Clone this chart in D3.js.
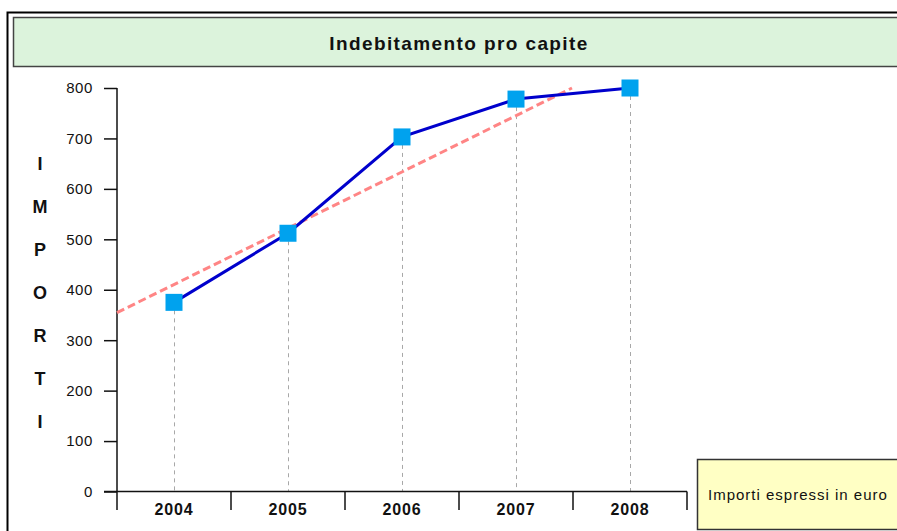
<!DOCTYPE html>
<html>
<head>
<meta charset="utf-8">
<script src="https://cdn.jsdelivr.net/npm/d3@7"></script>
<style>
  body { margin: 0; background: #fff; }
  svg { display: block; font-family: "Liberation Sans", Arial, sans-serif; }
</style>
</head>
<body>
<div id="chart-area"></div>
<script>
// data
const years = ["2004", "2005", "2006", "2007", "2008"];
const importi = [375, 512, 703, 778, 800];
const yTicks = [0, 100, 200, 300, 400, 500, 600, 700, 800];
const axisLetters = ["I", "M", "P", "O", "R", "T", "I"];

const W = 897, H = 531;
const plot = {left: 117, right: 687, top: 88, bottom: 491.5};

const svg = d3.select("#chart-area")
  .append("svg")
    .attr("width", W)
    .attr("height", H);

// outer frame + title box
svg.append("rect")
  .attr("x", 7.5).attr("y", 12.5)
  .attr("width", W + 20).attr("height", H + 20)
  .attr("fill", "none").attr("stroke", "#000").attr("stroke-width", 2);

svg.append("rect")
  .attr("x", 13.5).attr("y", 17.5)
  .attr("width", 892).attr("height", 49)
  .attr("fill", "#dcf3dc").attr("stroke", "#444").attr("stroke-width", 1.5);

svg.append("text")
  .attr("x", 459).attr("y", 50)
  .attr("text-anchor", "middle")
  .style("font-size", "19px").style("font-weight", "bold")
  .style("letter-spacing", "1.4px")
  .attr("fill", "#111")
  .text("Indebitamento pro capite");

// scales
const x = d3.scaleBand()
  .domain(years)
  .range([plot.left, plot.right]);

const y = d3.scaleLinear()
  .domain([0, 800])
  .range([plot.bottom, plot.top]);

const cx = d => x(d) + x.bandwidth() / 2;

// vertical dashed guides
svg.append("g")
  .selectAll("line")
  .data(years)
  .join("line")
    .attr("x1", d => Math.round(cx(d)) + 0.5)
    .attr("x2", d => Math.round(cx(d)) + 0.5)
    .attr("y1", (d, i) => y(importi[i]))
    .attr("y2", plot.bottom)
    .attr("stroke", "#a8a8a8")
    .attr("stroke-dasharray", "4,4");

// Y axis
const yAxis = svg.append("g")
  .attr("transform", `translate(${plot.left},0)`)
  .call(d3.axisLeft(y).tickValues(yTicks).tickSize(13).tickSizeOuter(0).tickPadding(11))
yAxis.select(".domain").remove();
yAxis.selectAll("line").attr("stroke", "#111").attr("stroke-width", 1.5);
yAxis.selectAll("text")
  .attr("fill", "#111")
  .style("font-size", "15px")
  .style("letter-spacing", "0.6px")
  .style("font-family", "Liberation Sans, Arial, sans-serif");

svg.append("line")
  .attr("x1", plot.left).attr("x2", plot.left)
  .attr("y1", plot.top).attr("y2", 510)
  .attr("stroke", "#111").attr("stroke-width", 1.5);

// X axis
svg.append("line")
  .attr("x1", plot.left - 13).attr("x2", plot.right)
  .attr("y1", plot.bottom).attr("y2", plot.bottom)
  .attr("stroke", "#111").attr("stroke-width", 1.5);

svg.append("g")
  .selectAll("line")
  .data(years.slice(1).concat(["end"]))
  .join("line")
    .attr("x1", d => d === "end" ? plot.right : x(d))
    .attr("x2", d => d === "end" ? plot.right : x(d))
    .attr("y1", plot.bottom)
    .attr("y2", 510)
    .attr("stroke", "#111").attr("stroke-width", 1.5);

const xAxis = svg.append("g")
  .attr("transform", `translate(0,${plot.bottom})`)
  .call(d3.axisBottom(x).tickSize(0).tickPadding(12))
xAxis.select(".domain").remove();
xAxis.selectAll("text")
  .attr("fill", "#111")
  .style("font-size", "16px")
  .style("font-weight", "bold")
  .style("letter-spacing", "0.8px")
  .style("font-family", "Liberation Sans, Arial, sans-serif");

// vertical axis title
svg.append("g")
  .selectAll("text")
  .data(axisLetters)
  .join("text")
    .attr("x", 40)
    .attr("y", (d, i) => 170 + i * 43)
    .attr("text-anchor", "middle")
    .style("font-size", "18px").style("font-weight", "bold")
    .attr("fill", "#111")
    .text(d => d);

// linear trend (least squares over the series)
const idx = importi.map((v, i) => i);
const mx = d3.mean(idx), my = d3.mean(importi);
const slope = d3.sum(idx, i => (i - mx) * (importi[i] - my)) / d3.sum(idx, i => (i - mx) ** 2);
const icpt = my - slope * mx;
const step = x.step();
const idxToPx = i => cx(years[0]) + i * step;
const i0 = -0.5;
const i1 = Math.min(years.length - 0.5, (800 - icpt) / slope);

svg.append("line")
  .attr("x1", idxToPx(i0)).attr("y1", y(icpt + slope * i0))
  .attr("x2", idxToPx(i1)).attr("y2", y(icpt + slope * i1))
  .attr("stroke", "#ff8585")
  .attr("stroke-width", 3)
  .attr("stroke-dasharray", "8,4");

// series line
const line = d3.line()
  .x((d, i) => cx(years[i]))
  .y(d => y(d));

svg.append("path")
  .datum(importi)
  .attr("d", line)
  .attr("fill", "none")
  .attr("stroke", "#0000cc")
  .attr("stroke-width", 3);

// markers
const ms = 17;
svg.append("g")
  .selectAll("rect")
  .data(importi)
  .join("rect")
    .attr("x", (d, i) => cx(years[i]) - ms / 2)
    .attr("y", d => y(d) - ms / 2)
    .attr("width", ms).attr("height", ms)
    .attr("fill", "#00a2ee");

// note box
svg.append("rect")
  .attr("x", 697.5).attr("y", 459.5)
  .attr("width", 220).attr("height", 70)
  .attr("fill", "#ffffc4").attr("stroke", "#333").attr("stroke-width", 1.5);

svg.append("text")
  .attr("x", 708).attr("y", 500)
  .style("font-size", "15px")
  .style("letter-spacing", "1px")
  .attr("fill", "#111")
  .text("Importi espressi in euro");
</script>
</body>
</html>
